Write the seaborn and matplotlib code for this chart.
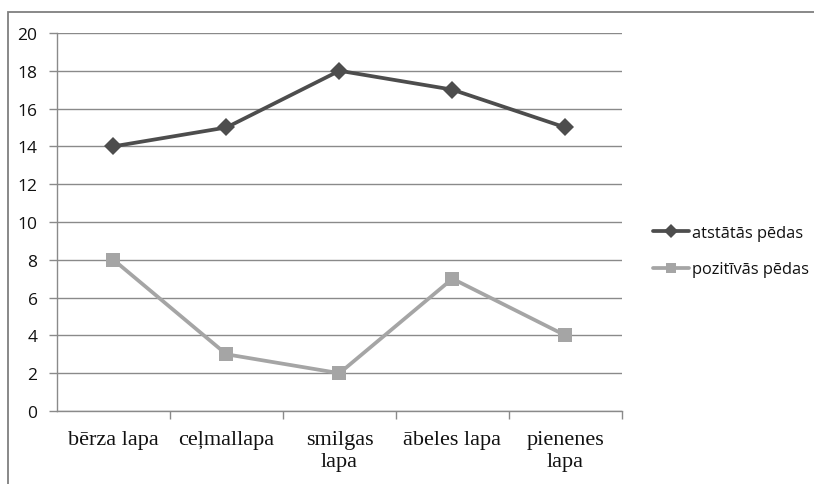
import matplotlib
matplotlib.use("Agg")
import matplotlib.pyplot as plt
import matplotlib.patches as mpatches
from matplotlib.ticker import FixedLocator, NullFormatter
import seaborn as sns
import pandas as pd

categories = ["bērza lapa", "ceļmallapa", "smilgas\nlapa", "ābeles lapa", "pienenes\nlapa"]
atstatas = [14, 15, 18, 17, 15]
pozitivas = [8, 3, 2, 7, 4]
series_names = ["atstātās pēdas", "pozitīvās pēdas"]
y_ticks = [0, 2, 4, 6, 8, 10, 12, 14, 16, 18, 20]

sns.set_theme(style="white")
plt.rcParams["font.family"] = ["Open Sans", "DejaVu Sans"]

fig = plt.figure(figsize=(8.14, 4.85), dpi=100)
ax = fig.add_axes([0.070, 0.1505, 0.694, 0.7795])

df = pd.DataFrame({
    "pos": list(range(len(categories))) * 2,
    "value": atstatas + pozitivas,
    "series": [series_names[0]] * len(categories) + [series_names[1]] * len(categories),
})

palette = {series_names[0]: "#4d4d4d", series_names[1]: "#a5a5a5"}
markers = {series_names[0]: "D", series_names[1]: "s"}
sns.lineplot(data=df, x="pos", y="value", hue="series", style="series",
             palette=palette, markers=markers, dashes=False, markersize=9.5,
             linewidth=2.7, markeredgewidth=0, ax=ax, legend=True)

ax.set_xlim(-0.5, len(categories) - 0.5)
ax.set_ylim(0, 20)
ax.set_yticks(y_ticks)
ax.set_yticklabels([str(t) for t in y_ticks], fontsize=12.5, color="#111111")
ax.yaxis.grid(True, color="#8a8a8a", linewidth=1)
ax.set_axisbelow(True)

ax.set_xticks(range(len(categories)))
ax.set_xticklabels(categories, family="Liberation Serif", fontsize=16, color="#111111",
                   linespacing=1.2)
ax.xaxis.set_minor_locator(FixedLocator([i + 0.5 for i in range(len(categories))]))
ax.xaxis.set_minor_formatter(NullFormatter())
ax.tick_params(axis="x", which="major", length=0, pad=14)
ax.tick_params(axis="x", which="minor", length=6, color="#8a8a8a", width=1, direction="out", bottom=True)
ax.tick_params(axis="y", length=6, color="#8a8a8a", width=1, direction="out", left=True, pad=8)
ax.set_xlabel("")
ax.set_ylabel("")

for side in ["top", "right"]:
    ax.spines[side].set_visible(False)
for side in ["left", "bottom"]:
    ax.spines[side].set_color("#8a8a8a")
    ax.spines[side].set_linewidth(1)

leg = ax.legend(loc="center left", bbox_to_anchor=(645 / 814, 1 - 252 / 485),
                bbox_transform=fig.transFigure, frameon=False, borderpad=0,
                fontsize=11.8, handlelength=2.2, handletextpad=0.15, labelspacing=1.25,
                markerscale=0.8)
for t in leg.get_texts():
    t.set_color("#111111")

# outer chart-area frame
frame = mpatches.Rectangle((8 / 814, -0.1), 1.1, 0.1 + (1 - 13 / 485),
                           transform=fig.transFigure, fill=False,
                           edgecolor="#7f7f7f", linewidth=1.3, clip_on=False)
fig.patches.append(frame)

fig.savefig("out.png", dpi=100)
